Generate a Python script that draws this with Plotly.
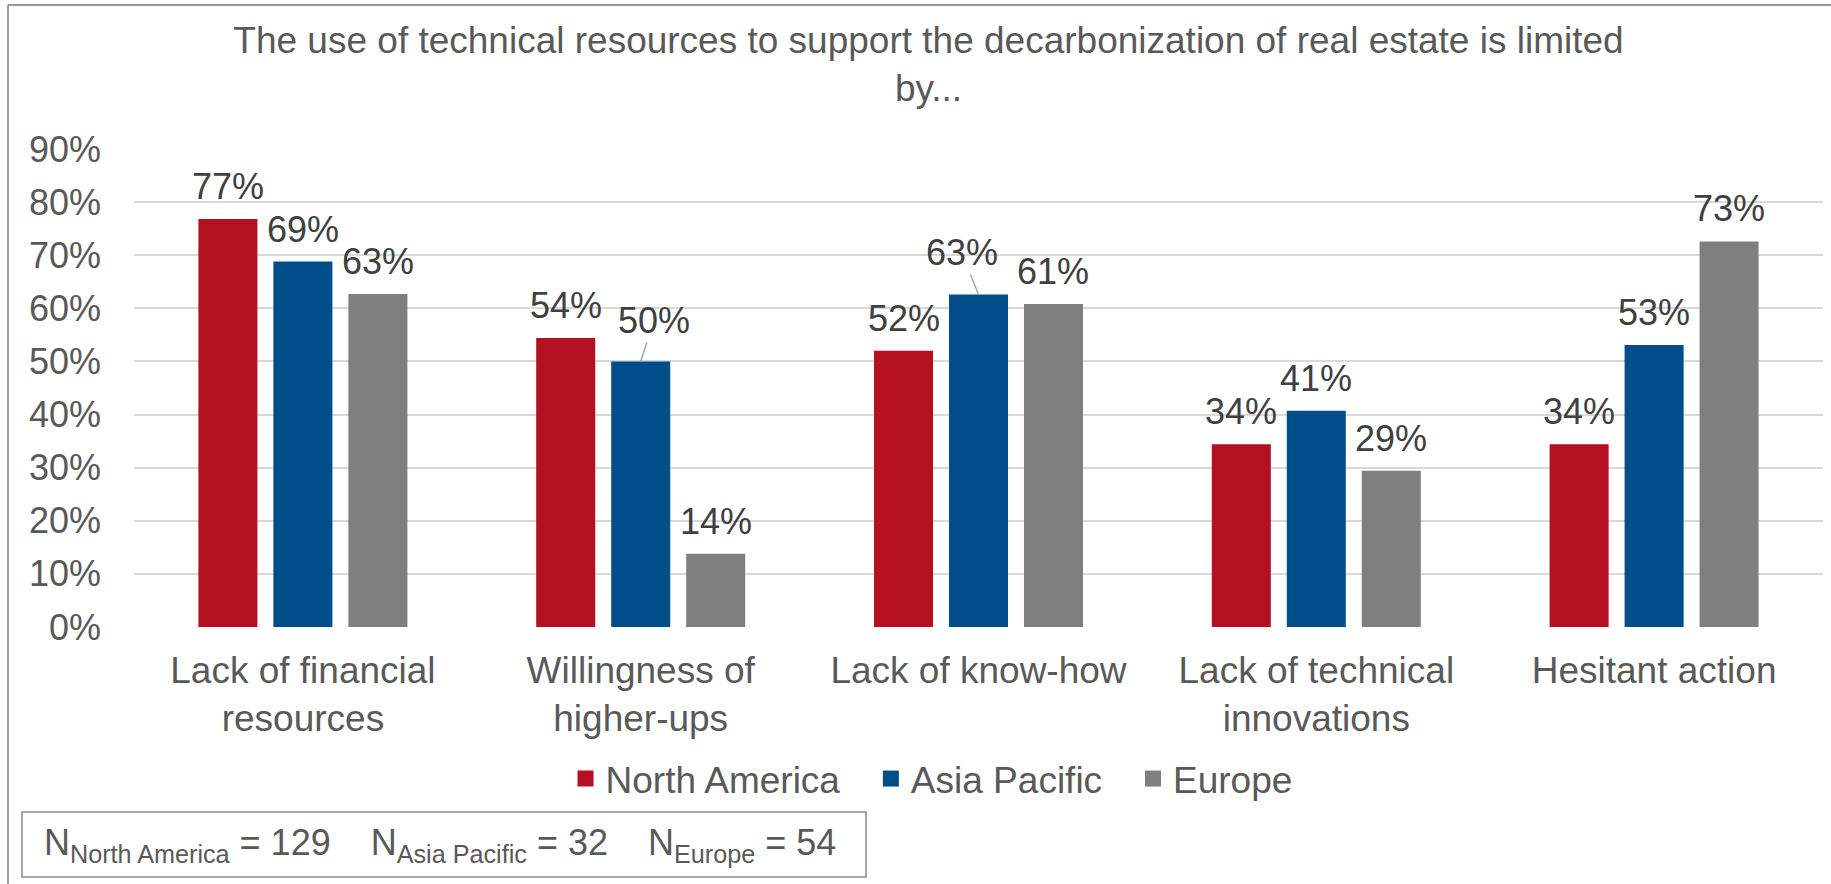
import plotly.graph_objects as go

# ---------------- data ----------------
categories = ["Lack of financial<br>resources", "Willingness of<br>higher-ups",
              "Lack of know-how", "Lack of technical<br>innovations", "Hesitant action"]
north_america = [76.8, 54.4, 52.0, 34.4, 34.4]
asia_pacific = [68.8, 50.0, 62.6, 40.7, 53.1]
europe = [62.7, 13.8, 60.8, 29.4, 72.6]
series_names = ["North America", "Asia Pacific", "Europe"]
series_colors = ["#B50F22", "#004E89", "#7F7F7F"]
y_ticks = [0, 10, 20, 30, 40, 50, 60, 70, 80, 90]
y_tick_labels = [f"{v}%" for v in y_ticks]
sample_sizes = [129, 32, 54]

# labels that were moved and linked to their bar with a leader line (series idx, category idx, dx, dy px)
leader_labels = {(1, 1): (13, -41), (1, 2): (-17, -42)}

FONT = "Liberation Sans, Arial, sans-serif"
TICK_COLOR = "#595959"
LABEL_COLOR = "#404040"
BARGAP = 0.334
GROUPGAP = 0.213
slot = (1 - BARGAP) / 3

xs = list(range(len(categories)))
series_values = [north_america, asia_pacific, europe]

fig = go.Figure()
for name, vals, color in zip(series_names, series_values, series_colors):
    fig.add_trace(go.Bar(x=xs, y=vals, name=name, marker=dict(color=color, line=dict(width=0)),
                         showlegend=False, hoverinfo="skip"))
legend_pad = ["\u2002\u2009", "\u2002\u2009", ""]
for name, color, pad in zip(series_names, series_colors, legend_pad):
    fig.add_trace(go.Scatter(x=[None], y=[None], mode="markers", name=name + pad,
                             marker=dict(symbol="square", size=19, color=color)))

annotations = []
for k, vals in enumerate(series_values):
    for i, v in enumerate(vals):
        txt = f"{round(v)}%"
        if (k, i) in leader_labels:
            dx, dy = leader_labels[(k, i)]
            annotations.append(dict(x=i + (k - 1) * slot, y=v, xref="x", yref="y", text=txt,
                                    showarrow=True, arrowhead=0, arrowwidth=1.5,
                                    arrowcolor="#A6A6A6", ax=dx, ay=dy, standoff=0,
                                    font=dict(family=FONT, size=36, color=LABEL_COLOR)))
        else:
            annotations.append(dict(x=i + (k - 1) * slot, y=v, xref="x", yref="y", text=txt,
                                    showarrow=False, yanchor="bottom", yshift=10,
                                    font=dict(family=FONT, size=36, color=LABEL_COLOR)))

# sample size box text
n_text = "\u00a0\u00a0\u00a0\u00a0".join(
    f"N<sub>{n}</sub> = {s}" for n, s in zip(series_names, sample_sizes))
annotations.append(dict(x=0.181, y=-0.456, xref="paper", yref="paper", text=n_text,
                        showarrow=False, xanchor="center", yanchor="middle",
                        font=dict(family=FONT, size=36, color=TICK_COLOR)))

shapes = [
    # N box
    dict(type="rect", xref="paper", yref="paper", x0=-0.0663, x1=0.4334, y0=-0.523, y1=-0.387,
         line=dict(color="#8C8C8C", width=1.5), fillcolor="rgba(0,0,0,0)"),
    # outer chart border (top and left visible)
    dict(type="line", xref="paper", yref="paper", x0=-0.0746, x1=1.2, y0=1.3013, y1=1.3013,
         line=dict(color="#9A9A9A", width=2)),
    dict(type="line", xref="paper", yref="paper", x0=-0.0746, x1=-0.0746, y0=-1.0, y1=1.3013,
         line=dict(color="#9A9A9A", width=2)),
]

fig.update_layout(
    width=1831, height=884,
    margin=dict(l=134, r=8, t=149, b=257),
    paper_bgcolor="white", plot_bgcolor="white",
    barmode="group", bargap=BARGAP, bargroupgap=GROUPGAP,
    title=dict(text="The use of technical resources to support the decarbonization of real estate is limited<br>by...",
               x=0.5071, xref="container", xanchor="center", y=0.940, yref="container", yanchor="top",
               font=dict(family=FONT, size=37, color=TICK_COLOR)),
    font=dict(family=FONT, size=36, color=TICK_COLOR),
    legend=dict(orientation="h", x=0.2555, y=-0.318, xanchor="left", yanchor="middle",
                font=dict(family=FONT, size=37, color=TICK_COLOR), itemwidth=30,
                bgcolor="rgba(0,0,0,0)"),
    annotations=annotations,
    shapes=shapes,
)
fig.update_xaxes(tickvals=xs, ticktext=categories, range=[-0.5, len(categories) - 0.5],
                 showgrid=False, zeroline=False, showline=False, ticks="", ticklabelstandoff=18,
                 tickfont=dict(family=FONT, size=37, color=TICK_COLOR))
fig.update_yaxes(range=[0, 90], tickvals=y_ticks, ticktext=y_tick_labels,
                 showgrid=True, gridcolor="#D9D9D9", gridwidth=2, zeroline=False, showline=False,
                 ticks="", ticklabelstandoff=32,
                 tickfont=dict(family=FONT, size=36, color=TICK_COLOR))

fig.write_html("out.html", config={"displayModeBar": False},
               post_script="document.body.style.margin='0';")
